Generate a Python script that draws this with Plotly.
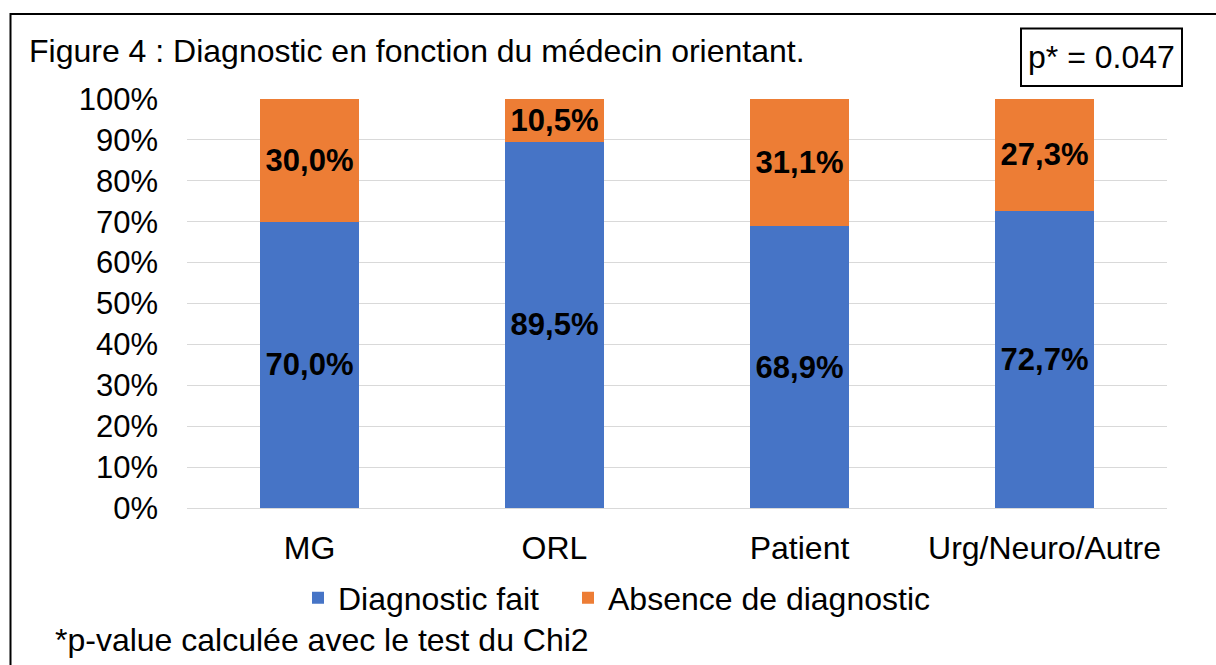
import plotly.graph_objects as go

categories = ["MG", "ORL", "Patient", "Urg/Neuro/Autre"]
diag_fait = [70.0, 89.5, 68.9, 72.7]
absence_diag = [30.0, 10.5, 31.1, 27.3]
series_names = ["Diagnostic fait", "Absence de diagnostic"]
title_text = "Figure 4 : Diagnostic en fonction du médecin orientant."
pvalue_text = "p* = 0.047"
footer_text = "*p-value calculée avec le test du Chi2"

FONT = "Liberation Sans, Arial, sans-serif"
W, H = 1216, 665
L, R, T, B = 187, 1167, 99, 508  # plot area pixel bounds


def px_x(px):
    return (px - L) / (R - L)


def px_y(py):
    return (B - py) / (B - T)


def fmt(v):
    return f"{v:.1f}%".replace(".", ",")


fig = go.Figure()
fig.add_trace(go.Bar(
    x=categories, y=[v / 100 for v in diag_fait], name=series_names[0],
    marker=dict(color="#4674C6", line=dict(width=0)),
    text=[fmt(v) for v in diag_fait], textposition="inside",
    insidetextanchor="middle", textangle=0, constraintext="none",
    textfont=dict(family=FONT, size=31, color="black", weight="bold"),
    width=0.404, legend="legend",
))
fig.add_trace(go.Bar(
    x=categories, y=[v / 100 for v in absence_diag], name=series_names[1],
    marker=dict(color="#ED7D35", line=dict(width=0)),
    text=[fmt(v) for v in absence_diag], textposition="inside",
    insidetextanchor="middle", textangle=0, constraintext="none",
    textfont=dict(family=FONT, size=31, color="black", weight="bold"),
    width=0.404, legend="legend2",
))

legend_common = dict(orientation="h", xanchor="left", yanchor="middle",
                     font=dict(family=FONT, size=32, color="black"),
                     itemclick=False, bgcolor="rgba(0,0,0,0)")

fig.update_layout(
    barmode="stack",
    width=W, height=H, autosize=False,
    margin=dict(l=L, r=W - R, t=T, b=H - B, pad=0),
    paper_bgcolor="white", plot_bgcolor="white",
    font=dict(family=FONT, size=32, color="black"),
    showlegend=True,
    legend=dict(x=px_x(298), y=px_y(598), **legend_common),
    legend2=dict(x=px_x(568), y=px_y(598), **legend_common),
    bargap=0.596,
)
fig.update_yaxes(range=[0, 1], dtick=0.1, tickformat=".0%",
                 showgrid=True, gridcolor="#D9D9D9", gridwidth=1,
                 zeroline=False, showline=False, ticks="",
                 ticklabelstandoff=28,
                 tickfont=dict(family=FONT, size=31, color="black"))
fig.update_xaxes(showgrid=False, showline=True, linecolor="#D9D9D9", linewidth=1,
                 ticks="", ticklabelstandoff=12,
                 tickfont=dict(family=FONT, size=32, color="black"))

# outer frame
fig.add_shape(type="rect", xref="paper", yref="paper",
              x0=px_x(10.5), x1=px_x(1240), y0=px_y(700), y1=px_y(14),
              line=dict(color="black", width=2), fillcolor="rgba(0,0,0,0)", layer="above")
# p-value box
fig.add_shape(type="rect", xref="paper", yref="paper",
              x0=px_x(1021), x1=px_x(1182), y0=px_y(86), y1=px_y(28.5),
              line=dict(color="black", width=2), fillcolor="white", layer="above")
fig.add_annotation(text=pvalue_text, xref="paper", yref="paper",
                   x=px_x(1101.5), y=px_y(57), xanchor="center", yanchor="middle",
                   showarrow=False, font=dict(family=FONT, size=32, color="black"))
fig.add_annotation(text=title_text, xref="paper", yref="paper",
                   x=px_x(27), y=px_y(51), xanchor="left", yanchor="middle",
                   showarrow=False, font=dict(family=FONT, size=32, color="black"))
fig.add_annotation(text=footer_text, xref="paper", yref="paper",
                   x=px_x(53), y=px_y(640), xanchor="left", yanchor="middle",
                   showarrow=False, font=dict(family=FONT, size=32, color="black"))

fig.write_html("out.html", config={"displayModeBar": False},
               post_script="document.body.style.margin='0';")
